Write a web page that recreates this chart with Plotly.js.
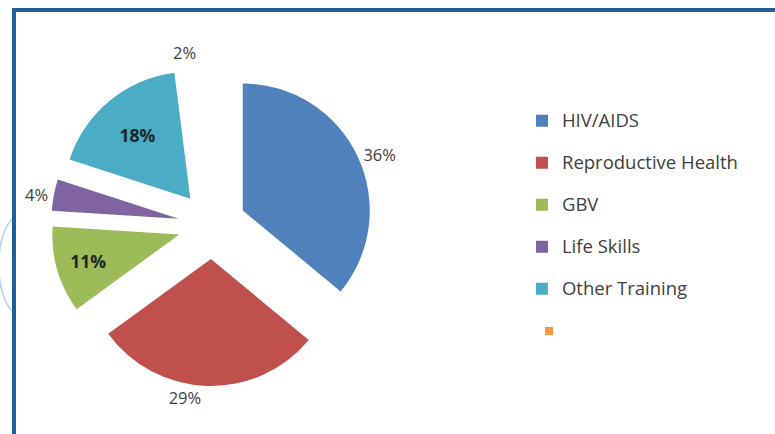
<!DOCTYPE html>
<html>
<head>
<meta charset="utf-8">
<script src="https://cdn.plot.ly/plotly-3.0.1.min.js"></script>
<style>html,body{margin:0;padding:0;background:#fff;}#chart{width:775px;height:434px;}</style>
</head>
<body>
<div id="chart"></div>
<script>
const categories = ['HIV/AIDS', 'Reproductive Health', 'GBV', 'Life Skills', 'Other Training', ' '];
const shares = [36, 29, 11, 4, 18, 2];
const shareLabels = ['36%', '29%', '11%', '4%', '18%', '2%'];
const sliceColors = ['#4F81BD', '#C0504D', '#9BBB59', '#8064A2', '#4BACC6', 'rgba(255,255,255,0)'];
const labelPositions = ['outside', 'outside', 'inside', 'outside', 'inside', 'outside'];

const legendLabels = categories.map(c => '<span style="font-size:18.5px">' + c + '</span><br> ');

const trace = {
  type: 'pie',
  labels: legendLabels,
  values: shares,
  text: shareLabels,
  textinfo: 'text',
  textposition: labelPositions,
  sort: false,
  direction: 'clockwise',
  rotation: 0,
  pull: 0.268,
  marker: {colors: sliceColors, line: {width: 0}},
  outsidetextfont: {family: 'Open Sans, sans-serif', size: 16.5, color: '#404040'},
  insidetextfont: {family: 'Open Sans, sans-serif', size: 17.5, color: '#1c2828', weight: 'bold'},
  domain: {x: [0.0658, 0.4813], y: [0.1106, 0.8525]},
  hoverinfo: 'percent'
};

const px = (x) => x / 775;
const py = (y) => 1 - y / 434;

const layout = {
  width: 775,
  height: 434,
  margin: {l: 0, r: 0, t: 0, b: 0},
  paper_bgcolor: '#ffffff',
  plot_bgcolor: '#ffffff',
  showlegend: true,
  legend: {
    x: 0.6735, y: 0.759, xanchor: 'left', yanchor: 'top',
    font: {family: 'Open Sans, sans-serif', size: 15, color: '#404040'},
    valign: 'top',
    bgcolor: 'rgba(0,0,0,0)'
  },
  shapes: [
    {type: 'path', xref: 'paper', yref: 'paper',
     path: `M ${px(13)},${py(218)} C ${px(-6)},${py(236)} ${px(-6)},${py(294)} ${px(13)},${py(312)}`,
     line: {color: '#b4d0ea', width: 1.5}},
    {type: 'line', xref: 'paper', yref: 'paper', x0: px(12), x1: 1, y0: py(10), y1: py(10), line: {color: '#1f5f98', width: 4}},
    {type: 'line', xref: 'paper', yref: 'paper', x0: px(14), x1: px(14), y0: 0, y1: py(8), line: {color: '#1f5f98', width: 4}},
    {type: 'rect', xref: 'paper', yref: 'paper', x0: px(545), x1: px(553), y0: py(335), y1: py(327), fillcolor: '#F79646', line: {width: 0}}
  ]
};

Plotly.newPlot('chart', [trace], layout, {staticPlot: true, displayModeBar: false});
</script>
</body>
</html>
